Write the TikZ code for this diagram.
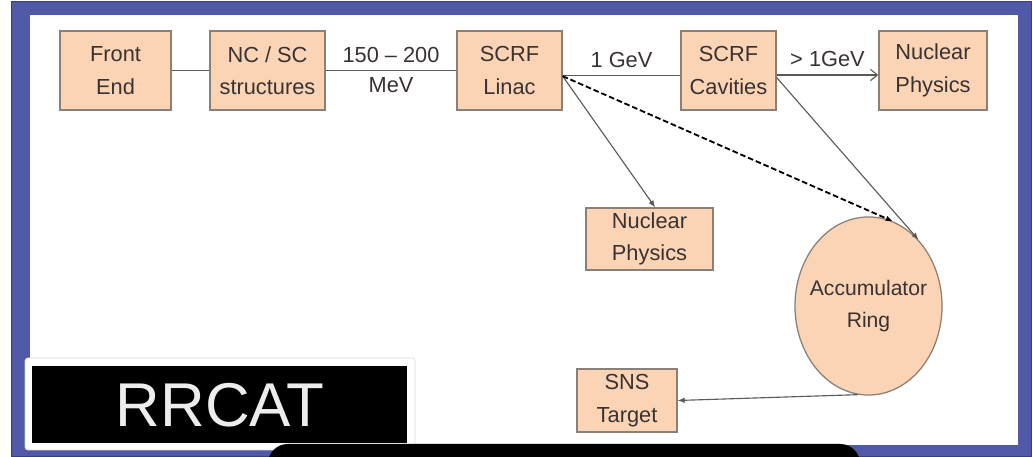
\documentclass[tikz,border=0pt]{standalone}
\usepackage{fontspec}
\setmainfont{Liberation Sans}
\usetikzlibrary{shapes.geometric,arrows.meta}
\definecolor{peach}{HTML}{FAD4B4}
\definecolor{boxline}{HTML}{8A8078}
\definecolor{slideblue}{HTML}{5058A8}
\definecolor{inktext}{HTML}{3A3232}
\definecolor{linegray}{HTML}{5A5A5A}

\begin{document}
\begin{tikzpicture}[x=0.025cm, y=-0.025cm,
    stage/.style={fill=peach, draw=boxline, line width=0.9pt, text=inktext, align=center, inner sep=0pt, font=\fontsize{15.5}{23}\selectfont},
    link/.style={draw=linegray, line width=0.8pt},
    feed/.style={link, -{Latex[length=5pt,width=4pt]}},
    energy/.style={text=inktext, font=\fontsize{15.5}{18}\selectfont}]
                \useasboundingbox (0,0) rectangle (1033,457);
                % slide frame
                \fill[white] (0,0) rectangle (1033,457);
                \filldraw[fill=slideblue, draw=slideblue!70!black] (11,1) rectangle (1031,456);
                \fill[white] (30,15) rectangle (1018,445);

                % boxes
                \node[stage, minimum width=2.775cm, minimum height=1.975cm] (front) at (115.5,70.5) {Front\\End};
                \node[stage, minimum width=2.875cm, minimum height=1.975cm] (ncsc) at (267.5,70.5) {NC / SC\\structures};
                \node[stage, minimum width=2.625cm, minimum height=1.975cm] (linac) at (509.5,70.5) {SCRF\\Linac};
                \node[stage, minimum width=2.375cm, minimum height=1.975cm] (cavities) at (728.5,70.5) {SCRF\\Cavities};
                \node[stage, minimum width=2.7cm, minimum height=1.975cm] (physics) at (933,70.5) {Nuclear\\Physics};
                \node[stage, minimum width=3.175cm, minimum height=1.55cm] (physicslow) at (649.5,239) {Nuclear\\Physics};
                \node[stage, ellipse, inner xsep=-10pt, inner ysep=-6pt, minimum width=3.675cm, minimum height=4.45cm,
                      font=\fontsize{15}{23}\selectfont] (ring) at (868.5,306) {Accumulator\\Ring};
                \node[stage, minimum width=2.5cm, minimum height=1.575cm] (target) at (627,400.5) {SNS\\Target};

                % beam lines
                \draw[link] (front) -- (ncsc);
                \draw[link] (ncsc) -- (linac)
                    node[energy, midway, above=2pt] (lowE) {150 – 200}
                    node[energy, midway, below=1pt] (lowU) {MeV};
                \draw[link] ([yshift=-3.5pt]linac.east) -- ([yshift=-3.5pt]cavities.west)
                    node[energy, midway, above=2pt] (midE) {1 GeV};
                \draw[link, -{Straight Barb[length=5pt,width=8pt]}] ([yshift=-3.2pt]cavities.east) -- ([yshift=-3.2pt]physics.west)
                    node[energy, midway, above=2pt] (highE) {> 1GeV};
                \draw[feed] ([yshift=-4pt]linac.east) -- ([xshift=4pt]physicslow.north);
                \draw[feed, draw=black, line width=1.3pt, dash pattern=on 4pt off 2pt] ([yshift=-4pt]linac.east) -- (ring.74);
                \draw[feed] ([yshift=-5pt]cavities.east) -- (ring.53);
                \draw[feed] (ring.263) -- (target.east);

                % caption bars
                \filldraw[fill=white, draw=white!85!black, rounded corners=2pt] (25,358) rectangle (415,450);
                \fill[black] (32,366) rectangle (407,443);
                \node[text=white!93!black, font=\fontsize{44}{44}\selectfont] (logo) at (220,405) {RRCAT};
                \fill[black, rounded corners=14pt] (268,444) rectangle (860,480);
\end{tikzpicture}
\end{document}
